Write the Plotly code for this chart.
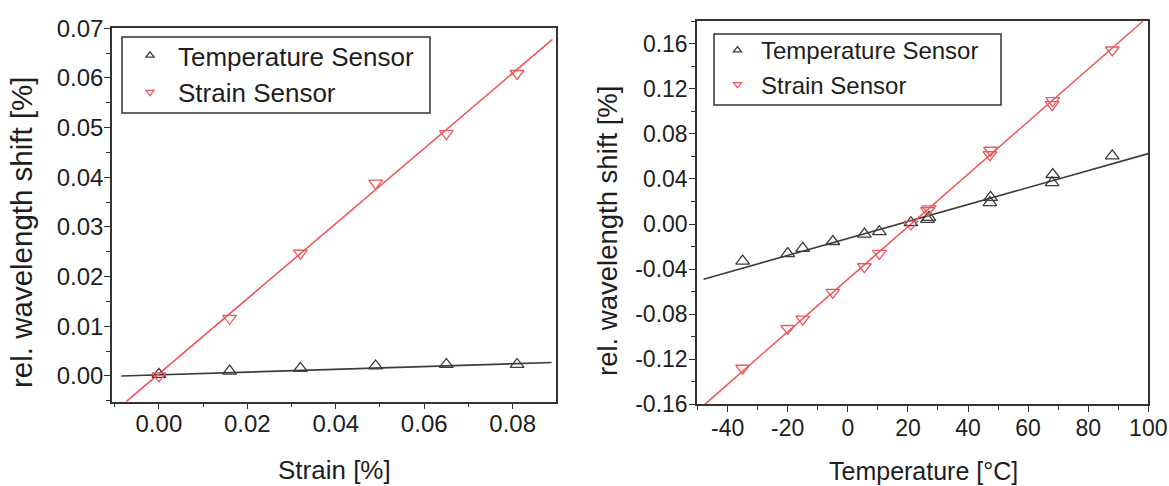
import numpy as np
import plotly.graph_objects as go

# ---------------- data: left panel (strain calibration) ----------------
strain_x = [0.0, 0.016, 0.032, 0.049, 0.065, 0.081]
strain_temp_sensor = [0.0003, 0.00095, 0.0015, 0.0020, 0.0023, 0.0023]
strain_strain_sensor = [0.0, 0.0116, 0.0247, 0.0388, 0.0488, 0.0609]
# linear fits (slope, intercept) and their drawn extent
strain_fit_temp = (0.028, 0.0002)
strain_fit_temp_x = [-0.0085, 0.0888]
strain_fit_strain = (0.757, 0.0004)
strain_fit_strain_x = [-0.0074, 0.0890]

# ---------------- data: right panel (temperature calibration) ----------------
temp_x = [-35, -20, -15, -5, 5.5, 10.5, 21, 26.5, 27, 47.3, 47.5, 68, 68.2, 88]
temp_temp_sensor = [-0.0329, -0.0262, -0.0216, -0.0155, -0.0089, -0.0068, 0.0012,
                    0.0042, 0.0060, 0.0190, 0.0237, 0.0367, 0.0440, 0.0605]
temp_strain_sensor = [-0.1280, -0.0927, -0.0844, -0.0607, -0.0379, -0.0260, 0.0000,
                      0.0120, 0.0135, 0.0615, 0.0655, 0.1060, 0.1095, 0.1545]
temp_fit_temp = (0.000753, -0.0128)
temp_fit_temp_x = [-48, 100]
temp_fit_strain = (0.002332, -0.0490)
temp_fit_strain_x = [-47.6, 98.2]

# tick labels
left_x_ticks = [0.00, 0.02, 0.04, 0.06, 0.08]
left_x_labels = ["0.00", "0.02", "0.04", "0.06", "0.08"]
left_y_ticks = [0.00, 0.01, 0.02, 0.03, 0.04, 0.05, 0.06, 0.07]
left_y_labels = ["0.00", "0.01", "0.02", "0.03", "0.04", "0.05", "0.06", "0.07"]
right_x_ticks = [-40, -20, 0, 20, 40, 60, 80, 100]
right_x_labels = ["-40", "-20", "0", "20", "40", "60", "80", "100"]
right_y_ticks = [-0.16, -0.12, -0.08, -0.04, 0.00, 0.04, 0.08, 0.12, 0.16]
right_y_labels = ["-0.16", "-0.12", "-0.08", "-0.04", "0.00", "0.04", "0.08", "0.12", "0.16"]

# ---------------- styling ----------------
W, H = 1169, 486
FONT = "Liberation Sans, Arial, Helvetica, sans-serif"
TXT = "#1e1e1e"
AX = "#333333"
RED = "#f0585c"
BLK = "#3c3c3c"


def dx(a, b):
    return [a / W, b / W]


def dy(top, bottom):
    return [(H - bottom) / H, (H - top) / H]


def fit_line(params, xr):
    xs = np.array(xr, dtype=float)
    return xs, params[0] * xs + params[1]


fig = go.Figure()

# left panel
for params, xr, col in [(strain_fit_temp, strain_fit_temp_x, BLK),
                        (strain_fit_strain, strain_fit_strain_x, RED)]:
    fx, fy = fit_line(params, xr)
    fig.add_trace(go.Scatter(x=fx, y=fy, mode="lines", line=dict(color=col, width=1.6),
                             showlegend=False, xaxis="x", yaxis="y", hoverinfo="skip"))
fig.add_trace(go.Scatter(x=strain_x, y=strain_temp_sensor, mode="markers",
                         marker=dict(symbol="triangle-up-open", size=12, color=BLK, line=dict(width=1.3)),
                         showlegend=False, xaxis="x", yaxis="y"))
fig.add_trace(go.Scatter(x=strain_x, y=strain_strain_sensor, mode="markers",
                         marker=dict(symbol="triangle-down-open", size=12, color=RED, line=dict(width=1.3)),
                         showlegend=False, xaxis="x", yaxis="y"))

# right panel
for params, xr, col in [(temp_fit_temp, temp_fit_temp_x, BLK),
                        (temp_fit_strain, temp_fit_strain_x, RED)]:
    fx, fy = fit_line(params, xr)
    fig.add_trace(go.Scatter(x=fx, y=fy, mode="lines", line=dict(color=col, width=1.6),
                             showlegend=False, xaxis="x2", yaxis="y2", hoverinfo="skip"))
fig.add_trace(go.Scatter(x=temp_x, y=temp_temp_sensor, mode="markers",
                         marker=dict(symbol="triangle-up-open", size=12, color=BLK, line=dict(width=1.3)),
                         showlegend=False, xaxis="x2", yaxis="y2"))
fig.add_trace(go.Scatter(x=temp_x, y=temp_strain_sensor, mode="markers",
                         marker=dict(symbol="triangle-down-open", size=12, color=RED, line=dict(width=1.3)),
                         showlegend=False, xaxis="x2", yaxis="y2"))

# legend entries (small symbols as in the reference)
for leg, xa, ya in [("legend", "x", "y"), ("legend2", "x2", "y2")]:
    fig.add_trace(go.Scatter(x=[None], y=[None], mode="markers", name="Temperature Sensor",
                             marker=dict(symbol="triangle-up-open", size=7, color=BLK, line=dict(width=1.3)),
                             legend=leg, xaxis=xa, yaxis=ya))
    fig.add_trace(go.Scatter(x=[None], y=[None], mode="markers", name="Strain Sensor",
                             marker=dict(symbol="triangle-down-open", size=7, color=RED, line=dict(width=1.3)),
                             legend=leg, xaxis=xa, yaxis=ya))


def axis(dom, rng, tv, tt, mdt, m0, anchor, fs, stand):
    return dict(domain=dom, range=rng, anchor=anchor, tickmode="array", tickvals=tv, ticktext=tt,
                automargin=False, ticklabelstandoff=stand,
                showline=True, linecolor=AX, linewidth=1.5, mirror=True,
                ticks="outside", ticklen=6, tickwidth=1.3, tickcolor=AX,
                showgrid=False, zeroline=False,
                tickfont=dict(family=FONT, size=fs, color=TXT),
                minor=dict(ticks="outside", ticklen=4, tickwidth=1.2, tickcolor=AX,
                           dtick=mdt, tick0=m0, showgrid=False))


def box(x0, y0, x1, y1):
    return dict(type="rect", xref="paper", yref="paper",
                x0=x0 / W, x1=x1 / W, y0=(H - y1) / H, y1=(H - y0) / H,
                line=dict(color=AX, width=1.5), fillcolor="rgba(0,0,0,0)", layer="above")


fig.update_layout(
    template="none",
    width=W, height=H, margin=dict(l=0, r=0, t=0, b=0, autoexpand=False),
    paper_bgcolor="white", plot_bgcolor="white",
    xaxis=axis(dx(112, 556), [-0.0106, 0.0898], left_x_ticks, left_x_labels, 0.01, 0, "y", 24, -6),
    yaxis=axis(dy(28.3, 401.7), [-0.0052, 0.07], left_y_ticks, left_y_labels, 0.005, 0, "x", 24, -4),
    xaxis2=axis(dx(697, 1148.3), [-50.2, 100], right_x_ticks, right_x_labels, 10, 0, "y2", 23, -4),
    yaxis2=axis(dy(20.7, 404.3), [-0.16, 0.1805], right_y_ticks, right_y_labels, 0.02, 0, "x2", 23, -3),
    legend=dict(x=122 / W, y=(H - 32) / H, xanchor="left", yanchor="top",
                borderwidth=0, bgcolor="rgba(0,0,0,0)", itemwidth=46,
                font=dict(family=FONT, size=26, color=TXT)),
    legend2=dict(x=714 / W, y=(H - 28) / H, xanchor="left", yanchor="top",
                 borderwidth=0, bgcolor="rgba(0,0,0,0)", itemwidth=37,
                 font=dict(family=FONT, size=24, color=TXT)),
    shapes=[box(122, 37, 430, 113), box(714, 34, 1001, 105)],
    annotations=[
        dict(text="Strain [%]", x=334 / W, y=(H - 470) / H, xref="paper", yref="paper",
             showarrow=False, xanchor="center", yanchor="middle",
             font=dict(family=FONT, size=26, color=TXT)),
        dict(text="Temperature [°C]", x=923 / W, y=(H - 471) / H, xref="paper", yref="paper",
             showarrow=False, xanchor="center", yanchor="middle",
             font=dict(family=FONT, size=25, color=TXT)),
        dict(text="rel. wavelength shift [%]", x=21 / W, y=(H - 232) / H, xref="paper", yref="paper",
             showarrow=False, xanchor="center", yanchor="middle", textangle=-90,
             font=dict(family=FONT, size=29.5, color=TXT)),
        dict(text="rel. wavelength shift [%]", x=607 / W, y=(H - 231) / H, xref="paper", yref="paper",
             showarrow=False, xanchor="center", yanchor="middle", textangle=-90,
             font=dict(family=FONT, size=27.5, color=TXT)),
    ],
)

fig.write_html("out.html")
